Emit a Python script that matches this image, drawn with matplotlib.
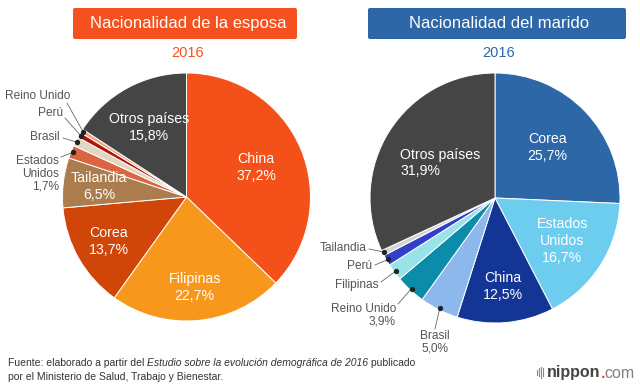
import matplotlib.pyplot as plt
import numpy as np
from matplotlib.patches import FancyBboxPatch

plt.rcParams['font.family'] = ['Liberation Sans', 'DejaVu Sans']

# datos
esposa_paises = ['China', 'Filipinas', 'Corea', 'Tailandia', 'Estados\nUnidos',
                 'Brasil', 'Perú', 'Reino Unido', 'Otros países']
esposa_valores = [37.2, 22.7, 13.7, 6.5, 1.7, 1.2, 0.7, 0.5, 15.8]
esposa_colores = ['#F4511A', '#F7981D', '#D04508', '#AA7C4E', '#DC6440',
                  '#E2D6C2', '#B0140C', '#F5A47A', '#454545']

marido_paises = ['Corea', 'Estados\nUnidos', 'China', 'Brasil', 'Reino Unido',
                 'Filipinas', 'Perú', 'Tailandia', 'Otros países']
marido_valores = [25.7, 16.7, 12.5, 5.0, 3.9, 2.2, 1.4, 0.7, 31.9]
marido_colores = ['#2D67A8', '#6DCDEE', '#133595', '#8CB8EB', '#0A8CAA',
                  '#99E2E8', '#3140C8', '#D5D5D5', '#454545']

def pct(v):
    return ('%.1f%%' % v).replace('.', ',')

fig = plt.figure(figsize=(6.4, 3.85), dpi=100)
ax = fig.add_axes([0, 0, 1, 1])

H = 385
def Y(y):  # coordenada de pixel (desde arriba) a datos
    return H - y

def pie(valores, colores, centro, radio):
    wedges, _ = ax.pie(valores, colors=colores, startangle=90, counterclock=False,
                       center=centro, radius=radio,
                       wedgeprops=dict(edgecolor='white', linewidth=0.7))
    return wedges

def punto(w, frac=0.985):
    ang = np.deg2rad((w.theta1 + w.theta2) / 2)
    cx, cy = w.center
    return cx + w.r * frac * np.cos(ang), cy + w.r * frac * np.sin(ang)

def etiqueta_dentro(w, texto, frac, ma='center', dx=0):
    x, y = punto(w, frac)
    ax.text(x + dx, y, texto, color='white', fontsize=10.2, ha='center', va='center',
            multialignment=ma, linespacing=1.25)

def etiqueta_fuera(w, texto, xt, yt, x0, y0, ha='right'):
    px, py = punto(w)
    ax.plot([x0, px], [Y(y0), py], color='#666666', lw=0.6)
    ax.plot(px, py, 'o', color='#222222', ms=2.8)
    ax.text(xt, Y(yt), texto, color='#555555', fontsize=8.6, ha=ha, va='center',
            multialignment=ha, linespacing=1.1)

# ---- esposa
cl = (186.5, Y(197))
wl = pie(esposa_valores, esposa_colores, cl, 124)
fr = [0.61, 0.73, 0.72, 0.71]
for i in range(4):
    etiqueta_dentro(wl[i], esposa_paises[i] + '\n' + pct(esposa_valores[i]), fr[i])
etiqueta_dentro(wl[8], esposa_paises[8] + '\n' + pct(esposa_valores[8]), 0.64)
etiqueta_fuera(wl[4], 'Estados\nUnidos\n' + pct(esposa_valores[4]), 59, 174, 61, 157)
etiqueta_fuera(wl[5], 'Brasil', 60, 137, 63, 138)
etiqueta_fuera(wl[6], 'Perú', 63, 113, 65, 118)
etiqueta_fuera(wl[7], 'Reino Unido', 70, 96, 67, 103)

# ---- marido
cr = (495, Y(198))
wr = pie(marido_valores, marido_colores, cr, 125)
fr = [0.58, 0.64, 0.71]
for i in range(3):
    etiqueta_dentro(wr[i], marido_paises[i] + '\n' + pct(marido_valores[i]), fr[i])
etiqueta_dentro(wr[8], marido_paises[8] + '\n' + pct(marido_valores[8]), 0.52, ma='left')
etiqueta_fuera(wr[3], 'Brasil\n' + pct(marido_valores[3]), 435, 342, 435, 329, ha='center')
etiqueta_fuera(wr[4], 'Reino Unido\n' + pct(marido_valores[4]), 396, 315, 398, 304)
etiqueta_fuera(wr[5], 'Filipinas', 378, 285, 381, 282)
etiqueta_fuera(wr[6], 'Perú', 372, 266, 375, 265)
etiqueta_fuera(wr[7], 'Tailandia', 367, 248, 369, 249)

ax.set_xlim(0, 640)
ax.set_ylim(0, 385)
ax.set_aspect('auto')
ax.axis('off')

# ---- cabeceras
for (x0, x1, col, txt, cx) in [(73, 297, '#F4511E', 'Nacionalidad de la esposa', 188),
                               (368, 626, '#2D67A8', 'Nacionalidad del marido', 499)]:
    ax.add_patch(FancyBboxPatch((x0, Y(39)), x1 - x0, 31,
                                boxstyle='round,pad=0,rounding_size=2',
                                facecolor=col, edgecolor='none'))
    ax.text(cx, Y(23.5), txt, color='white', fontsize=12, ha='center', va='center')
    ax.text(cx, Y(53), '2016', color=col, fontsize=10.5, ha='center', va='center')

# ---- fuente
fig.canvas.draw()
r = fig.canvas.get_renderer()
x = 8
for s, st in [('Fuente: elaborado a partir del ', 'normal'),
              ('Estudio sobre la evolución demográfica de 2016', 'italic'),
              (' publicado', 'normal')]:
    t = ax.text(x, Y(363), s, fontsize=7.5, style=st, color='#333333',
                ha='left', va='center')
    bb = t.get_window_extent(renderer=r)
    x += bb.width
ax.text(8, Y(377), 'por el Ministerio de Salud, Trabajo y Bienestar.', fontsize=7.5,
        color='#333333', ha='left', va='center')

# logo
for i, h in enumerate([5, 8, 11, 8]):
    ax.plot([537 + i * 2, 537 + i * 2], [Y(373) - h / 2 + 1, Y(373) + h / 2 + 1],
            color='#888888', lw=0.8)
t1 = ax.text(547, Y(373), 'nippon', fontsize=11.5, color='#444444', fontweight='bold',
             ha='left', va='center')
x = t1.get_window_extent(renderer=r).x1
ax.text(x, Y(373), '.', fontsize=11.5, color='#F4511E', fontweight='bold',
        ha='left', va='center')
ax.text(x + 3.5, Y(373), 'com', fontsize=11.5, color='#808080',
        ha='left', va='center')

fig.savefig('out.png', dpi=100)
